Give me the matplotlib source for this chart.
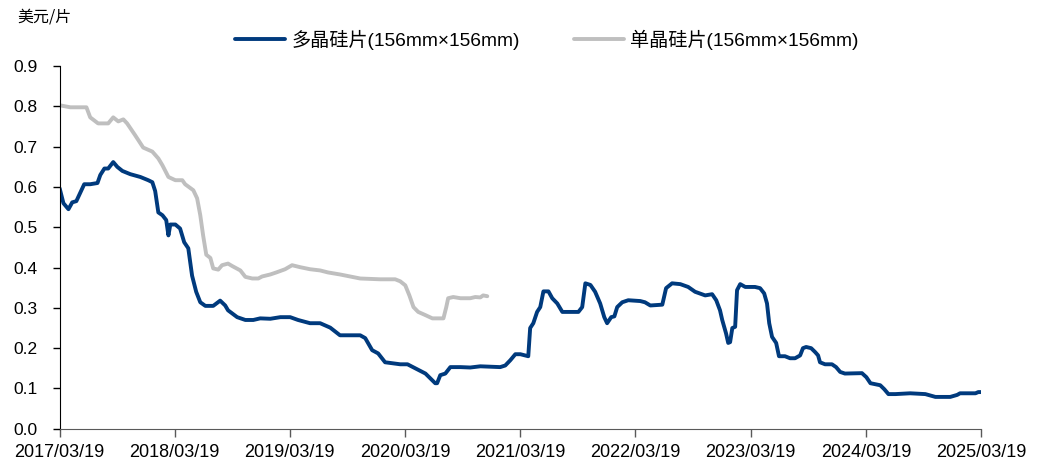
import matplotlib
matplotlib.use('Agg')
import matplotlib.pyplot as plt
import matplotlib.dates as mdates
import pandas as pd

plt.rcParams['font.family'] = ['Liberation Sans', 'Noto Sans CJK SC']

# 多晶硅片 (blue)
poly_dates = ['2017-03-19', '2017-03-31', '2017-04-16', '2017-04-28', '2017-05-11', '2017-05-24',
              '2017-06-05', '2017-06-24', '2017-07-17', '2017-07-26', '2017-08-08', '2017-08-20',
              '2017-09-05', '2017-09-18', '2017-10-04', '2017-10-29', '2017-11-30', '2017-12-25',
              '2018-01-07', '2018-01-16', '2018-01-26', '2018-02-08', '2018-02-20', '2018-02-27',
              '2018-03-05', '2018-03-21', '2018-04-05', '2018-04-18', '2018-05-01', '2018-05-13',
              '2018-05-26', '2018-06-08', '2018-06-24', '2018-07-19', '2018-08-10', '2018-08-26',
              '2018-09-04', '2018-10-03', '2018-10-29', '2018-11-23', '2018-12-15', '2019-01-16',
              '2019-02-17', '2019-03-20', '2019-04-14', '2019-05-22', '2019-06-23', '2019-07-25',
              '2019-08-25', '2019-10-28', '2019-11-13', '2019-12-05', '2019-12-24', '2020-01-15',
              '2020-03-03', '2020-03-26', '2020-04-20', '2020-05-22', '2020-06-13', '2020-06-22',
              '2020-06-28', '2020-07-08', '2020-07-24', '2020-08-09', '2020-09-10', '2020-10-11',
              '2020-11-12', '2021-01-14', '2021-01-30', '2021-02-15', '2021-03-03', '2021-03-19',
              '2021-04-13', '2021-04-19', '2021-04-29', '2021-05-11', '2021-05-21', '2021-05-31',
              '2021-06-16', '2021-06-28', '2021-07-14', '2021-07-30', '2021-09-19', '2021-10-01',
              '2021-10-11', '2021-10-27', '2021-11-11', '2021-11-27', '2021-12-10', '2021-12-19',
              '2022-01-01', '2022-01-11', '2022-01-20', '2022-02-05', '2022-02-24', '2022-04-03',
              '2022-04-18', '2022-05-05', '2022-06-12', '2022-06-24', '2022-07-13', '2022-08-08',
              '2022-09-02', '2022-09-24', '2022-10-26', '2022-11-17', '2022-11-30', '2022-12-12',
              '2022-12-19', '2022-12-31', '2023-01-07', '2023-01-13', '2023-01-20', '2023-01-29',
              '2023-02-04', '2023-02-14', '2023-03-02', '2023-04-02', '2023-04-18', '2023-05-01',
              '2023-05-10', '2023-05-17', '2023-05-26', '2023-06-08', '2023-06-17', '2023-07-06',
              '2023-07-22', '2023-08-07', '2023-08-23', '2023-09-01', '2023-09-11', '2023-09-27',
              '2023-10-10', '2023-10-19', '2023-10-25', '2023-11-10', '2023-12-02', '2023-12-15',
              '2023-12-28', '2024-01-12', '2024-03-06', '2024-03-20', '2024-04-02', '2024-05-03',
              '2024-05-16', '2024-05-29', '2024-06-20', '2024-08-06', '2024-09-23', '2024-10-25',
              '2024-12-11', '2025-01-02', '2025-01-11', '2025-03-01', '2025-03-10', '2025-03-19']
poly_vals = [0.597, 0.560, 0.545, 0.562, 0.565, 0.587,
             0.607, 0.607, 0.610, 0.630, 0.646, 0.646,
             0.662, 0.650, 0.640, 0.632, 0.625, 0.617,
             0.612, 0.590, 0.537, 0.530, 0.518, 0.480,
             0.507, 0.507, 0.497, 0.463, 0.448, 0.380,
             0.340, 0.314, 0.305, 0.305, 0.318, 0.306,
             0.294, 0.277, 0.270, 0.270, 0.274, 0.273,
             0.277, 0.277, 0.270, 0.262, 0.262, 0.251,
             0.232, 0.232, 0.225, 0.195, 0.187, 0.165,
             0.160, 0.160, 0.150, 0.137, 0.120, 0.113,
             0.113, 0.133, 0.137, 0.153, 0.153, 0.152,
             0.155, 0.153, 0.157, 0.170, 0.185, 0.185,
             0.180, 0.250, 0.262, 0.290, 0.302, 0.341,
             0.341, 0.324, 0.311, 0.290, 0.290, 0.302,
             0.361, 0.357, 0.340, 0.311, 0.277, 0.262,
             0.277, 0.279, 0.302, 0.314, 0.319, 0.317,
             0.314, 0.306, 0.308, 0.349, 0.361, 0.359,
             0.352, 0.340, 0.331, 0.334, 0.319, 0.294,
             0.270, 0.237, 0.213, 0.215, 0.250, 0.253,
             0.344, 0.359, 0.352, 0.352, 0.349, 0.336,
             0.311, 0.262, 0.228, 0.213, 0.180, 0.180,
             0.175, 0.175, 0.182, 0.200, 0.203, 0.200,
             0.190, 0.182, 0.165, 0.160, 0.160, 0.153,
             0.141, 0.137, 0.138, 0.128, 0.113, 0.108,
             0.098, 0.086, 0.086, 0.088, 0.086, 0.079,
             0.079, 0.084, 0.088, 0.088, 0.091, 0.091]

# 单晶硅片 (grey)
mono_dates = ['2017-03-19', '2017-04-22', '2017-06-12', '2017-06-24', '2017-07-19', '2017-08-20',
              '2017-09-05', '2017-09-21', '2017-10-07', '2017-10-19', '2017-11-14', '2017-12-09',
              '2018-01-07', '2018-01-26', '2018-02-08', '2018-02-27', '2018-03-21', '2018-04-12',
              '2018-04-21', '2018-05-17', '2018-05-29', '2018-06-08', '2018-06-17', '2018-06-27',
              '2018-07-10', '2018-07-19', '2018-08-04', '2018-08-16', '2018-09-04', '2018-09-17',
              '2018-10-13', '2018-10-29', '2018-11-20', '2018-12-09', '2018-12-21', '2019-01-16',
              '2019-02-04', '2019-03-04', '2019-03-26', '2019-04-21', '2019-05-22', '2019-06-23',
              '2019-07-18', '2019-08-25', '2019-09-26', '2019-10-28', '2019-12-30', '2020-02-16',
              '2020-03-03', '2020-03-19', '2020-04-01', '2020-04-14', '2020-04-29', '2020-05-22',
              '2020-06-13', '2020-07-18', '2020-07-27', '2020-08-02', '2020-08-18', '2020-09-10',
              '2020-10-11', '2020-10-27', '2020-11-12', '2020-11-21', '2020-12-04']
mono_vals = [0.803, 0.798, 0.798, 0.773, 0.758, 0.758,
             0.773, 0.763, 0.768, 0.758, 0.728, 0.698,
             0.688, 0.671, 0.654, 0.625, 0.617, 0.617,
             0.607, 0.592, 0.572, 0.530, 0.480, 0.432,
             0.424, 0.398, 0.395, 0.406, 0.410, 0.404,
             0.393, 0.377, 0.373, 0.373, 0.378, 0.383,
             0.388, 0.396, 0.406, 0.401, 0.396, 0.393,
             0.388, 0.383, 0.378, 0.373, 0.371, 0.371,
             0.366, 0.356, 0.331, 0.302, 0.290, 0.282,
             0.274, 0.274, 0.302, 0.324, 0.327, 0.324,
             0.324, 0.327, 0.326, 0.331, 0.329]

tick_dates = ['2017-03-19', '2018-03-19', '2019-03-19', '2020-03-19', '2021-03-19',
              '2022-03-19', '2023-03-19', '2024-03-19', '2025-03-19']

fig = plt.figure(figsize=(10.46, 4.63), dpi=100)
ax = fig.add_axes([0.057, 0.074, 0.881, 0.783])

ax.plot(pd.to_datetime(poly_dates), poly_vals, color='#003A7D', lw=2.8,
        solid_joinstyle='round', solid_capstyle='round', label='多晶硅片(156mm×156mm)')
ax.plot(pd.to_datetime(mono_dates), mono_vals, color='#BFBFBF', lw=2.8,
        solid_joinstyle='round', solid_capstyle='round', label='单晶硅片(156mm×156mm)')

ax.set_xlim(pd.Timestamp('2017-03-19'), pd.Timestamp('2025-03-19'))
ax.set_ylim(0, 0.9)
ax.set_yticks([i / 10 for i in range(10)])
ax.yaxis.set_major_formatter(matplotlib.ticker.FormatStrFormatter('%.1f'))
ax.set_xticks(pd.to_datetime(tick_dates))
ax.xaxis.set_major_formatter(mdates.DateFormatter('%Y/%m/%d'))

for s in ['top', 'right']:
    ax.spines[s].set_visible(False)
ax.spines['left'].set_color('black')
ax.spines['bottom'].set_color('#595959')
ax.tick_params(axis='y', direction='out', length=5, width=1, pad=11, labelsize=12.5)
ax.tick_params(axis='x', direction='out', length=6, width=1, color='#595959', pad=5, labelsize=13)

fig.text(0.017, 0.963, '美元/片', fontsize=11.5, family=['Noto Sans CJK SC'], va='center', ha='left')

fig.legend(loc='center', bbox_to_anchor=(0.523, 0.914), ncol=2, frameon=False,
           fontsize=13.8, handlelength=2.6, handletextpad=0.35, columnspacing=2.8)

fig.savefig('out.png', dpi=100)
